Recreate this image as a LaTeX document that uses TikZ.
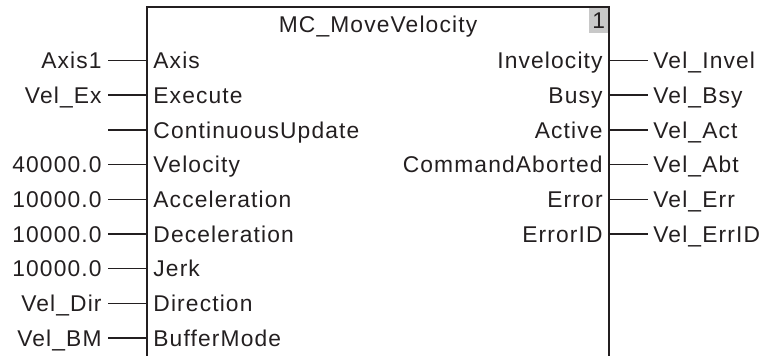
\documentclass[tikz,border=0pt]{standalone}
\usepackage{fontspec}
\setmainfont{Liberation Sans}[LetterSpace=5]
\usetikzlibrary{positioning}
\definecolor{inkdark}{RGB}{35,31,32}
\definecolor{taggray}{RGB}{200,200,200}

\begin{document}
\begin{tikzpicture}[
    x=0.5pt, y=-0.5pt,
    font=\fontsize{11.4pt}{13pt}\selectfont, text=inkdark,
    pinin/.style={anchor=west, inner xsep=3pt, inner ysep=0pt, text height=8.2pt, text depth=0pt},
    pinout/.style={pinin, anchor=east},
    varin/.style={inner xsep=3pt, inner ysep=0pt, text height=8.2pt, text depth=0pt},
    varout/.style={varin, inner xsep=2.5pt},
    wire/.style={draw=inkdark, line width=0.7pt},
    tag/.style={fill=taggray, anchor=north east, minimum width=10pt, minimum height=13pt, inner sep=0pt}
]
    \useasboundingbox (0,0) rectangle (767,356);

    % instance tag and function block (open at the bottom)
    \node[tag] (inst) at (609,7) {1};
    \draw[wire] (147,356) |- (609,7) -- (609,356);
    \node[inner sep=0pt, text height=8.2pt, text depth=0pt] (title) at (378,24) {MC\_MoveVelocity};

    % input pins
    \node[pinin] (pAxis)  at (147,60.5)  {Axis};
    \node[pinin] (pExec)  at (147,95.2)  {Execute};
    \node[pinin] (pCont)  at (147,129.9) {ContinuousUpdate};
    \node[pinin] (pVel)   at (147,164.6) {Velocity};
    \node[pinin] (pAcc)   at (147,199.3) {Acceleration};
    \node[pinin] (pDec)   at (147,234.0) {Deceleration};
    \node[pinin] (pJerk)  at (147,268.7) {Jerk};
    \node[pinin] (pDir)   at (147,303.4) {Direction};
    \node[pinin] (pBuf)   at (147,338.1) {BufferMode};

    % output pins
    \node[pinout] (pInv)  at (609,60.5)  {Invelocity};
    \node[pinout] (pBusy) at (609,95.2)  {Busy};
    \node[pinout] (pAct)  at (609,129.9) {Active};
    \node[pinout] (pAbt)  at (609,164.6) {CommandAborted};
    \node[pinout] (pErr)  at (609,199.3) {Error};
    \node[pinout] (pErrID) at (609,234.0) {ErrorID};

    % input variables
    \node[varin, left=19.5pt of pAxis] (vAxis) {Axis1};
    \node[varin, left=19.5pt of pExec] (vExec) {Vel\_Ex};
    \coordinate[left=19.5pt of pCont]  (vCont);
    \node[varin, left=19.5pt of pVel]  (vVel)  {40000.0};
    \node[varin, left=19.5pt of pAcc]  (vAcc)  {10000.0};
    \node[varin, left=19.5pt of pDec]  (vDec)  {10000.0};
    \node[varin, left=19.5pt of pJerk] (vJerk) {10000.0};
    \node[varin, left=19.5pt of pDir]  (vDir)  {Vel\_Dir};
    \node[varin, left=19.5pt of pBuf]  (vBuf)  {Vel\_BM};

    % output variables
    \node[varout, right=19.5pt of pInv]   (vInv)   {Vel\_Invel};
    \node[varout, right=19.5pt of pBusy]  (vBusy)  {Vel\_Bsy};
    \node[varout, right=19.5pt of pAct]   (vAct)   {Vel\_Act};
    \node[varout, right=19.5pt of pAbt]   (vAbt)   {Vel\_Abt};
    \node[varout, right=19.5pt of pErr]   (vErr)   {Vel\_Err};
    \node[varout, right=19.5pt of pErrID] (vErrID) {Vel\_ErrID};

    \draw[wire] (vAxis) -- (pAxis);
    \draw[wire] (vExec) -- (pExec);
    \draw[wire] (vCont) -- (pCont);
    \draw[wire] (vVel)  -- (pVel);
    \draw[wire] (vAcc)  -- (pAcc);
    \draw[wire] (vDec)  -- (pDec);
    \draw[wire] (vJerk) -- (pJerk);
    \draw[wire] (vDir)  -- (pDir);
    \draw[wire] (vBuf)  -- (pBuf);

    \draw[wire] (pInv)   -- (vInv);
    \draw[wire] (pBusy)  -- (vBusy);
    \draw[wire] (pAct)   -- (vAct);
    \draw[wire] (pAbt)   -- (vAbt);
    \draw[wire] (pErr)   -- (vErr);
    \draw[wire] (pErrID) -- (vErrID);
\end{tikzpicture}
\end{document}
